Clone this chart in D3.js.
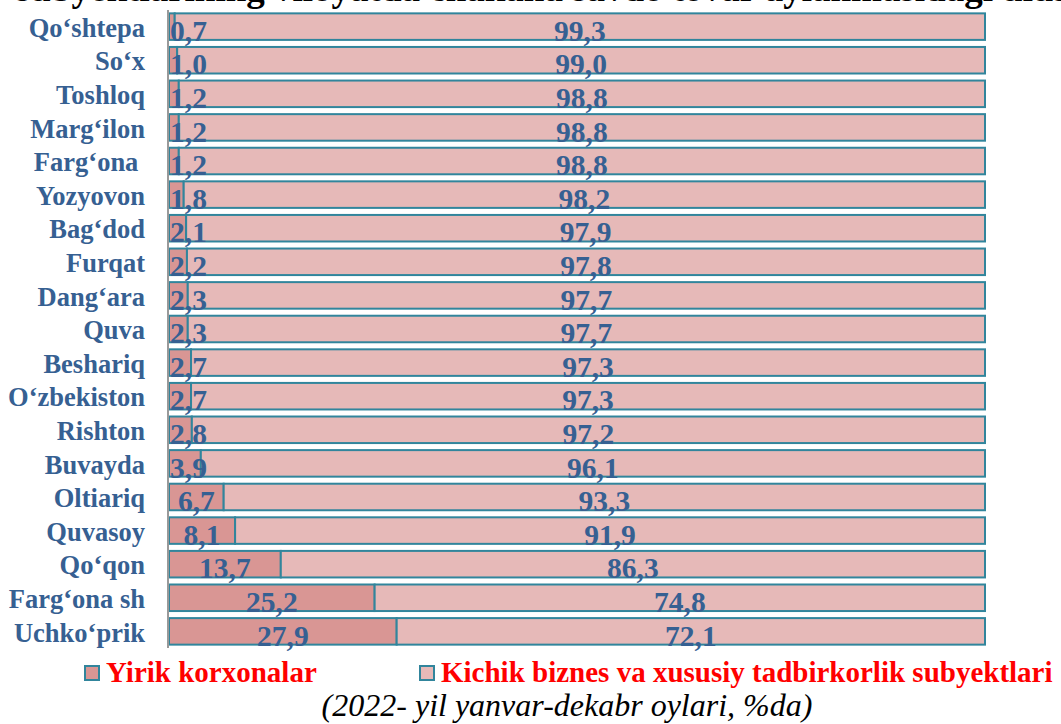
<!DOCTYPE html>
<html>
<head>
<meta charset="utf-8">
<script src="https://cdn.jsdelivr.net/npm/d3@7"></script>
<style>
  body { margin: 0; background: #fff; }
  text { font-family: "Liberation Serif", "Times New Roman", serif; }
</style>
</head>
<body>
<script>
// data
var regions = ["Qo‘shtepa", "So‘x", "Toshloq", "Marg‘ilon", "Farg‘ona ", "Yozyovon", "Bag‘dod", "Furqat",
  "Dang‘ara", "Quva", "Beshariq", "O‘zbekiston", "Rishton", "Buvayda", "Oltiariq", "Quvasoy",
  "Qo‘qon", "Farg‘ona sh", "Uchko‘prik"];
var large = [0.7, 1.0, 1.2, 1.2, 1.2, 1.8, 2.1, 2.2, 2.3, 2.3, 2.7, 2.7, 2.8, 3.9, 6.7, 8.1, 13.7, 25.2, 27.9];
var small = [99.3, 99.0, 98.8, 98.8, 98.8, 98.2, 97.9, 97.8, 97.7, 97.7, 97.3, 97.3, 97.2, 96.1, 93.3, 91.9, 86.3, 74.8, 72.1];
var seriesNames = ["Yirik korxonalar", "Kichik biznes va xususiy tadbirkorlik subyektlari"];
var colors = ["#d99694", "#e6b9b8"];

var width = 1061, height = 724;
var svg = d3.select("body").append("svg")
  .attr("width", width)
  .attr("height", height);

//title, cut off at the top like the reference
svg.append("text")
  .attr("x", 16).attr("y", 1)
  .attr("font-size", 37).attr("font-weight", "bold")
  .attr("fill", "#000")
  .text("subyektlarining viloyatda chakana savdo tovar aylanmasidagi ulushi");

var x = d3.scaleLinear().domain([0, 100]).range([169, 985]);
var y = d3.scaleBand().domain(regions).range([10, 648]).paddingInner(0.21).paddingOuter(0.1);

var fmt = function(v) { return d3.format(".1f")(v).replace(".", ","); };

var rows = regions.map(function(r, i) { return { name: r, a: large[i], b: small[i] }; });

var g = svg.append("g");

var row = g.selectAll("g.row").data(rows).enter().append("g").attr("class", "row");

row.append("rect")
  .attr("x", function(d) { return x(0); })
  .attr("y", function(d) { return y(d.name); })
  .attr("width", function(d) { return x(d.a) - x(0); })
  .attr("height", y.bandwidth())
  .attr("fill", colors[0])
  .attr("stroke", "#31859c").attr("stroke-width", 2);

row.append("rect")
  .attr("x", function(d) { return x(d.a); })
  .attr("y", function(d) { return y(d.name); })
  .attr("width", function(d) { return x(d.a + d.b) - x(d.a); })
  .attr("height", y.bandwidth())
  .attr("fill", colors[1])
  .attr("stroke", "#31859c").attr("stroke-width", 2);

// axis line
svg.append("line")
  .attr("x1", 168).attr("x2", 168)
  .attr("y1", 10).attr("y2", 648)
  .attr("stroke", "#999").attr("stroke-width", 2);

var vfs = 29.5;
// value labels (small ones pushed right so they start near the axis)
row.append("text")
  .attr("y", function(d) { return y(d.name) + y.bandwidth() + 1; })
  .attr("text-anchor", "middle")
  .attr("font-size", vfs).attr("font-weight", "bold")
  .attr("fill", "#366092")
  .text(function(d) { return fmt(d.a); })
  .attr("x", function(d) {
    var w = this.getComputedTextLength();
    return Math.max((x(0) + x(d.a)) / 2, 170 + w / 2);
  });

row.append("text")
  .attr("x", function(d) { return (x(d.a) + x(d.a + d.b)) / 2; })
  .attr("y", function(d) { return y(d.name) + y.bandwidth() + 1; })
  .attr("text-anchor", "middle")
  .attr("font-size", vfs).attr("font-weight", "bold")
  .attr("fill", "#366092")
  .text(function(d) { return fmt(d.b); });

// category labels
row.append("text")
  .attr("x", 145)
  .attr("y", function(d) { return y(d.name) + y.bandwidth() - 3; })
  .attr("text-anchor", "end")
  .attr("font-size", 26.5).attr("font-weight", "bold")
  .attr("fill", "#366092")
  .style("white-space", "pre")
  .text(function(d) { return d.name; });

// legend
var legX = [85, 420];
var leg = svg.selectAll("g.leg").data(seriesNames).enter().append("g")
  .attr("class", "leg")
  .attr("transform", function(d, i) { return "translate(" + legX[i] + ",666)"; });
leg.append("rect")
  .attr("width", 14).attr("height", 14)
  .attr("fill", function(d, i) { return colors[i]; })
  .attr("stroke", "#31859c").attr("stroke-width", 2);
leg.append("text")
  .attr("x", 21).attr("y", 16)
  .attr("font-size", 29).attr("font-weight", "bold")
  .attr("fill", "#ff0000")
  .text(function(d) { return d; });

svg.append("text")
  .attr("x", 567).attr("y", 716)
  .attr("text-anchor", "middle")
  .attr("font-size", 32).attr("font-style", "italic")
  .attr("fill", "#000")
  .text("(2022- yil yanvar-dekabr oylari, %da)");
</script>
</body>
</html>
